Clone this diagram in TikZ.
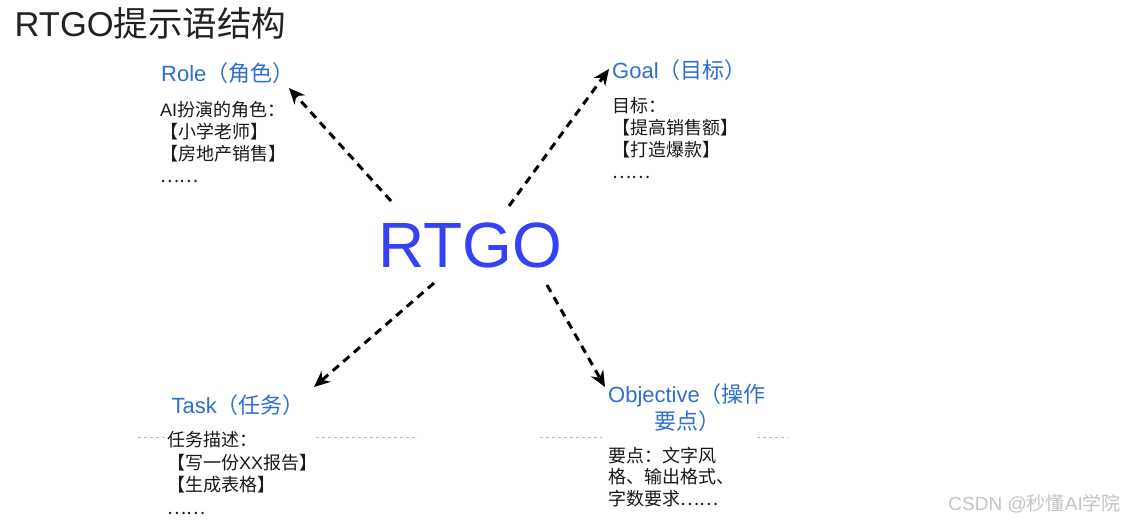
\documentclass[tikz,border=0pt]{standalone}
\usepackage{fontspec}
\setmainfont{Liberation Sans}
\newfontfamily\zh{Noto Sans CJK SC}
\usetikzlibrary{arrows.meta}
\definecolor{titlegray}{HTML}{222222}
\definecolor{headblue}{HTML}{2F6FD1}
\definecolor{rtgoblue}{HTML}{3441F5}
\definecolor{rulegray}{HTML}{BBBBBB}
\definecolor{markgray}{HTML}{C4C4C4}

\begin{document}
\begin{tikzpicture}[
    x=1pt, y=-1pt,
    headtext/.style={anchor=base west, inner sep=0pt, text=headblue,
                     font=\fontsize{22}{27}\selectfont},
    bodytext/.style={anchor=base west, inner sep=0pt, align=left, text=black!90,
                     font=\fontsize{18}{22}\selectfont},
    flow/.style={-{Stealth[length=16pt, width=14pt]}, line width=3pt,
                 dash pattern=on 8pt off 6pt},
    guide/.style={rulegray, line width=0.8pt, dash pattern=on 3pt off 3pt}
]

% canvas
\path[fill=white, use as bounding box] (0,0) rectangle (1126,526);

% title
\node[anchor=base west, inner sep=0pt, text=titlegray, font=\fontsize{34.5}{40}\selectfont]
    at (14.5,37) (title) {RTGO{\zh 提示语结构}};

% centre word
\node[anchor=base west, inner sep=0pt, text=rtgoblue, font=\fontsize{64}{70}\selectfont]
    at (378,268) (rtgo) {RTGO};

% Role (multi-line nodes sit on their last baseline)
\node[headtext] at (161,82) (role) {Role{\zh （角色）}};
\node[bodytext] at (160,183) (roledesc)
    {AI{\zh 扮演的角色：}\\{\zh 【小学老师】}\\{\zh 【房地产销售】}\\{\zh ……}};

% Goal
\node[headtext] at (612,79) (goal) {Goal{\zh （目标）}};
\node[bodytext] at (612,179) (goaldesc)
    {{\zh 目标：}\\{\zh 【提高销售额】}\\{\zh 【打造爆款】}\\{\zh ……}};

% Task
\node[headtext] at (171.5,413) (task) {Task{\zh （任务）}};
\node[bodytext, font=\fontsize{18}{22.5}\selectfont] at (167,514) (taskdesc)
    {{\zh 任务描述：}\\{\zh 【写一份}XX{\zh 报告】}\\{\zh 【生成表格】}\\{\zh ……}};

% Objective
\node[headtext, anchor=base, align=center] at (687,429) (objective)
    {Objective{\zh （操作}\\{\zh 要点）}};
\node[bodytext, font=\fontsize{18}{21.5}\selectfont] at (608,505) (objdesc)
    {{\zh 要点：文字风}\\{\zh 格、输出格式、}\\{\zh 字数要求……}};

% dashed guides
\draw[guide] (138,437) -- (165,437);
\draw[guide] (316,437) -- (418,437);
\draw[guide] (540,437) -- (602,437);
\draw[guide] (757,437) -- (788,437);

% arrow ends
\coordinate (rtgo-role) at (391,201);
\coordinate (rtgo-goal) at (509,206);
\coordinate (rtgo-task) at (434,283);
\coordinate (rtgo-obj) at (547,285);
\coordinate (role-tip) at (289,88);
\coordinate (goal-tip) at (609,69);
\coordinate (task-tip) at (314,387);
\coordinate (obj-tip) at (605,387);

% arrows
\draw[flow] (rtgo-role) -- (role-tip);
\draw[flow] (rtgo-goal) -- (goal-tip);
\draw[flow] (rtgo-task) -- (task-tip);
\draw[flow] (rtgo-obj) -- (obj-tip);

% watermark
\node[anchor=base east, inner sep=0pt, text=markgray, font=\fontsize{19}{22}\selectfont]
    at (1121,510) (mark) {CSDN @{\zh 秒懂}AI{\zh 学院}};

\end{tikzpicture}
\end{document}
